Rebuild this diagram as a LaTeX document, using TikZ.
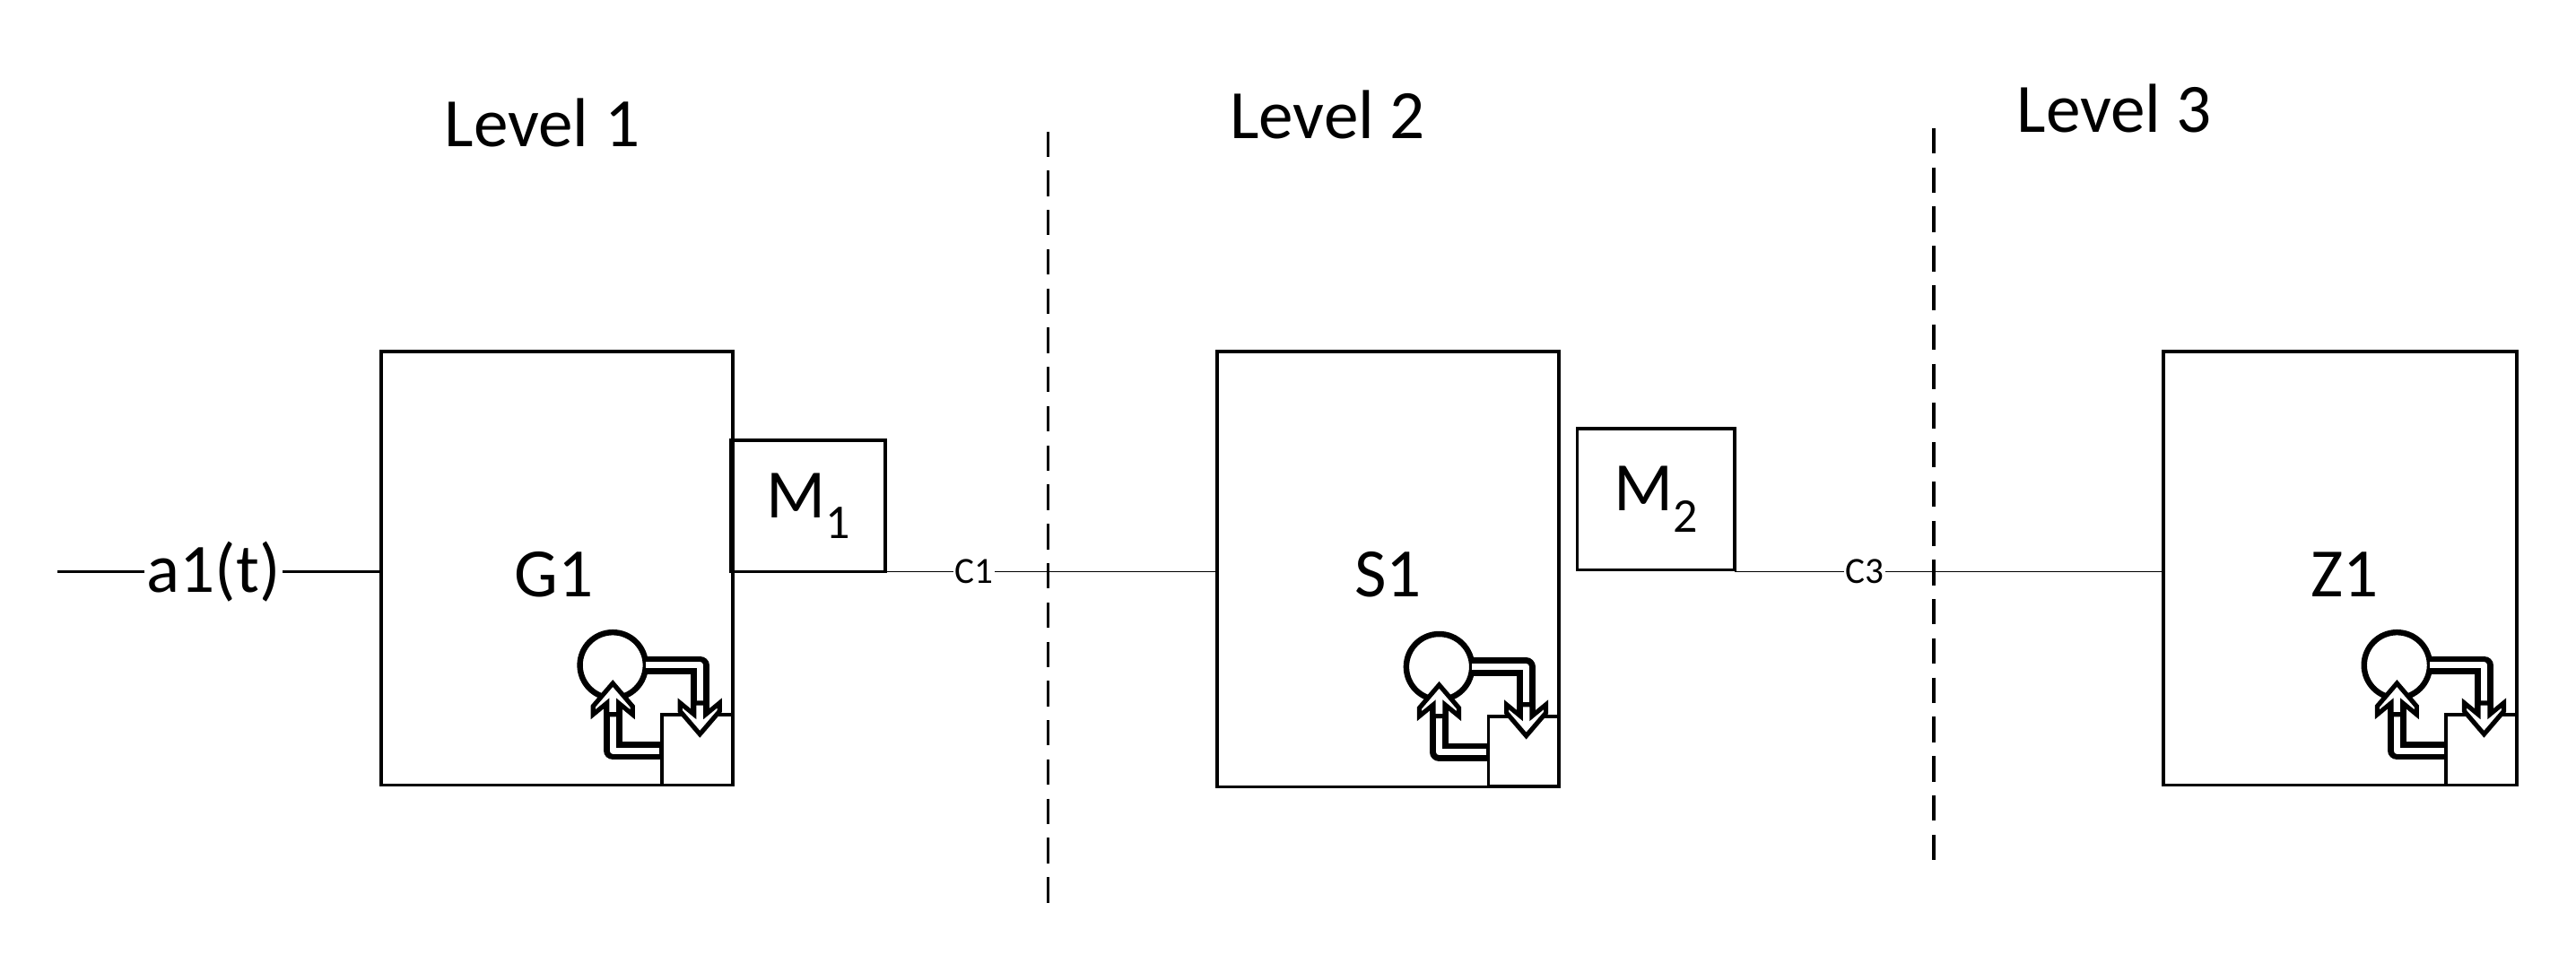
\documentclass[tikz,border=0pt]{standalone}
\usepackage{fontspec}
\setmainfont{Carlito}
\usetikzlibrary{arrows.meta}
\begin{document}
\begin{tikzpicture}[x=0.05cm,y=-0.05cm,
  box/.style={draw,line width=2.8pt},
  conn/.style={line width=1.3pt},
  sepline/.style={line width=2.8pt,dash pattern=on 22pt off 12pt},
  big/.style={font=\fontsize{60}{72}\selectfont},
  small/.style={font=\fontsize{32}{38}\selectfont,fill=white,inner sep=1pt},
  pics/icon/.style={code={
    \draw[line width=5pt] (-73,-73) circle (20);
    \draw[line width=3pt,fill=white] (-43,-43) rectangle (0,0);
    \draw[line width=16pt,line join=round] (-53,-73) -- (-20,-73) -- (-20,-42);
    \draw[line width=5.5pt,white,line join=round] (-53,-73) -- (-20,-73) -- (-20,-42);
    \draw[line width=4pt,fill=white,line join=miter] (-20,-31) -- (-32,-45) -- (-32,-50) -- (-23.5,-43) -- (-23.5,-50) -- (-16.5,-50) -- (-16.5,-43) -- (-8,-50) -- (-8,-45) -- cycle;
    \draw[line width=16pt,line join=round] (-43,-21) -- (-73,-21) -- (-73,-50);
    \draw[line width=5.5pt,white,line join=round] (-44.5,-21) -- (-73,-21) -- (-73,-50);
    \draw[line width=4pt,fill=white,line join=miter] (-73,-62) -- (-85,-48) -- (-85,-43) -- (-76.5,-50) -- (-76.5,-43) -- (-69.5,-43) -- (-69.5,-50) -- (-61,-43) -- (-61,-48) -- cycle;
  }}]
\useasboundingbox (0,0) rectangle (1568,581);
% level labels
\node[big] (l1) at (330,75) {Level 1};
\node[big] (l2) at (808,70) {Level 2};
\node[big] (l3) at (1287,66) {Level 3};
% dashed separators
\coordinate (d1a) at (638,80); \coordinate (d1b) at (638,555);
\coordinate (d2a) at (1177,78); \coordinate (d2b) at (1177,525);
\draw[sepline] (d1a) -- (d1b);
\draw[sepline] (d2a) -- (d2b);
% boxes
\draw[box] (232,214) rectangle (446,478);
\draw[box] (741,214) rectangle (949,479);
\draw[box] (1317,214) rectangle (1532,478);
\node[draw,line width=2.8pt,minimum width=94*0.05cm,minimum height=80*0.05cm,big] (M1) at (492,308) {M\textsubscript{1}};
\node[draw,line width=2.8pt,minimum width=96*0.05cm,minimum height=86*0.05cm,big] (M2) at (1008,304) {M\textsubscript{2}};
\node[big] (G1) at (337,350) {G1};
\node[big] (S1) at (845,350) {S1};
\node[big] (Z1) at (1427,350) {Z1};
% icons
\pic at (446,478) {icon};
\pic at (949,479) {icon};
\pic at (1532,478) {icon};
% connectors
\coordinate (a0) at (35,348); \coordinate (gL) at (232,348);
\node[big,fill=white,inner sep=2pt] (a1) at (130,348) {a1(t)};
\draw[line width=2.6pt] (a0) -- (a1.west);
\draw[line width=2.6pt] (a1.east) -- (gL);
\coordinate (m1e) at (539,348); \coordinate (sL) at (741,348);
\draw[conn] (m1e) -- (sL);
\node[small] (c1) at (593,348) {C1};
\coordinate (m2e) at (1056,348); \coordinate (zL) at (1317,348);
\draw[conn] (m2e) -- (zL);
\node[small] (c3) at (1135,348) {C3};
\end{tikzpicture}
\end{document}
